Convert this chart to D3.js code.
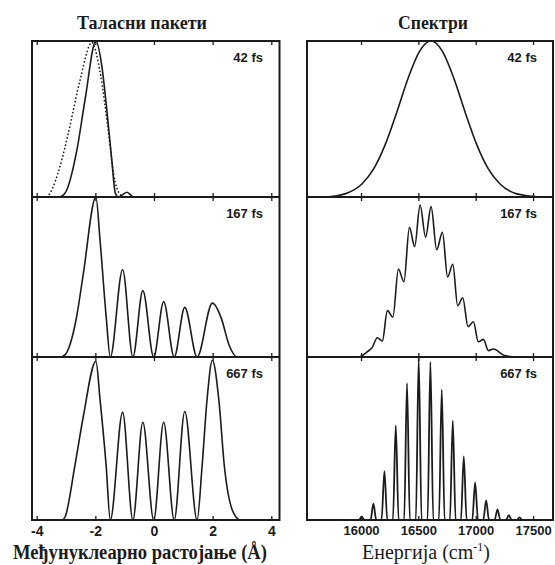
<!DOCTYPE html>
<html><head><meta charset="utf-8">
<script src="https://cdn.jsdelivr.net/npm/d3@7"></script>
<style>body{margin:0;background:#fff} svg{display:block}</style>
</head><body>
<svg id="c" width="555" height="565"></svg>
<script>
// ---------- data ----------
const panelLabels = ["42 fs", "167 fs", "667 fs"];
const distTicks = [-4, -2, 0, 2, 4];
const distTickLabels = ["-4", "-2", "0", "2", "4"];
const energyTicks = [16000, 16500, 17000, 17500];
const energyTickLabels = ["16000", "16500", "17000", "17500"];

// wave packets |psi|^2 (distance in Å, relative amplitude)
const packet42X = [-4.16, -3.25, -3.03, -2.63, -2.35, -1.98, -1.78, -1.61, -1.44, -1.32, -1.22, -0.92, -0.7, 4.28];
const packet42Y = [0, 0, 0.026, 0.30, 0.625, 1.0, 0.84, 0.56, 0.24, 0.026, 0, 0.03, 0, 0];
const initialX = [-3.65, -3.54, -3.20, -2.92, -2.52, -2.12, -1.83, -1.55, -1.38, -1.15, -1.0];
const initialY = [0, 0.026, 0.20, 0.41, 0.75, 0.99, 0.79, 0.41, 0.15, 0.015, 0];
const packet167X = [-4.16, -3.2, -3.03, -2.86, -2.64, -2.41, -1.98, -1.84, -1.63, -1.49, -1.07, -0.72, -0.38, -0.01, 0.33, 0.69, 1.05, 1.47, 1.99, 2.30, 2.55, 2.84, 4.28];
const packet167Y = [0, 0, 0.015, 0.08, 0.25, 0.52, 1.0, 0.73, 0.25, 0, 0.547, 0, 0.415, 0, 0.345, 0, 0.31, 0, 0.337, 0.24, 0.08, 0, 0];
const packet667X = [-4.16, -3.13, -3.03, -2.70, -2.41, -1.98, -1.84, -1.63, -1.49, -1.07, -0.72, -0.38, -0.01, 0.33, 0.69, 1.05, 1.47, 1.64, 1.81, 1.99, 2.21, 2.40, 2.72, 2.95, 4.28];
const packet667Y = [0, 0, 0.02, 0.33, 0.635, 0.973, 0.74, 0.33, 0, 0.66, 0, 0.60, 0, 0.60, 0, 0.666, 0, 0.33, 0.74, 0.98, 0.74, 0.33, 0.04, 0, 0];

// spectra (energy in cm^-1, relative intensity)
const spec42E = [15529, 15700, 15860, 16010, 16110, 16210, 16310, 16410, 16510, 16610, 16710, 16810, 16910, 17010, 17110, 17210, 17360, 17560, 17674];
const spec42I = [0, 0, 0.02, 0.085, 0.18, 0.334, 0.539, 0.76, 0.934, 1, 0.934, 0.76, 0.539, 0.334, 0.18, 0.085, 0.02, 0, 0];
const spec167E = [15529, 15976, 16050, 16098, 16142, 16186, 16230, 16278, 16326, 16374, 16422, 16468, 16515, 16563, 16611, 16660, 16710, 16755, 16800, 16843, 16887, 16933, 16980, 17023, 17067, 17111, 17155, 17250, 17359, 17674];
const spec167I = [0, 0, 0.03, 0.06, 0.12, 0.10, 0.29, 0.25, 0.55, 0.47, 0.81, 0.69, 0.95, 0.75, 0.94, 0.67, 0.78, 0.50, 0.58, 0.32, 0.37, 0.19, 0.22, 0.095, 0.11, 0.04, 0.05, 0.01, 0, 0];
const lines667E = [16006, 16108, 16204, 16303, 16401, 16503, 16605, 16704, 16800, 16896, 16995, 17091, 17190, 17289, 17382];
const lines667I = [0.02, 0.10, 0.30, 0.58, 0.84, 0.99, 0.97, 0.80, 0.61, 0.39, 0.23, 0.12, 0.065, 0.03, 0.016];
const lineHalfWidth = 25;

// ---------- layout ----------
const svg = d3.select("#c");
const ink = "#1b1b1b";
const rows = [[41, 197], [197, 357], [357, 520]];
const xL = d3.scaleLinear().domain([-4.16, 4.28]).range([32, 279.5]);
const xR = d3.scaleLinear().domain([15529, 17674]).range([307, 553]);

const zip = (a, b) => a.map((v, i) => [v, b[i]]);
const spec667 = [[15529, 0]];
lines667E.forEach((c, i) => { spec667.push([c - lineHalfWidth, 0], [c, lines667I[i]], [c + lineHalfWidth, 0]); });
spec667.push([17674, 0]);

const leftSeries = [zip(packet42X, packet42Y), zip(packet167X, packet167Y), zip(packet667X, packet667Y)];
const rightSeries = [zip(spec42E, spec42I), zip(spec167E, spec167I), spec667];

function drawColumn(x, series, ticks, tickLabels, isLeft) {
  const [x0, x1] = x.range();
  rows.forEach(([top, bot], i) => {
    const y = d3.scaleLinear().domain([0, 1]).range([bot, top]);
    const g = svg.append("g");
    g.append("g").attr("transform", `translate(0,${top})`)
      .call(d3.axisTop(x).tickValues(ticks).tickSizeInner(-4).tickSizeOuter(0).tickFormat(""))
      .call(s => s.select(".domain").remove())
      .call(s => s.selectAll("line").attr("stroke", ink).attr("stroke-width", 1.3));
    const bAxis = d3.axisBottom(x).tickValues(ticks).tickSizeInner(-4).tickSizeOuter(0).tickPadding(6)
      .tickFormat(i === 2 ? ((d, k) => tickLabels[k]) : "");
    g.append("g").attr("transform", `translate(0,${bot})`).call(bAxis)
      .call(s => s.select(".domain").remove())
      .call(s => s.selectAll("line").attr("stroke", ink).attr("stroke-width", 1.3))
      .call(s => s.selectAll("text").attr("fill", ink)
        .style("font-family", "'Liberation Sans', Arial, sans-serif")
        .style("font-weight", "bold").style("font-size", isLeft ? "14px" : "13px"));
    const line = d3.line().x(d => x(d[0])).y(d => y(d[1])).curve(d3.curveMonotoneX);
    g.append("path").datum(series[i]).attr("d", line).attr("fill", "none")
      .attr("stroke", ink).attr("stroke-width", (!isLeft && i === 2) ? 1.8 : 1.6).attr("stroke-linejoin", "round");
    if (isLeft && i === 0) {
      g.append("path").datum(zip(initialX, initialY)).attr("d", line).attr("fill", "none")
        .attr("stroke", ink).attr("stroke-width", 1.7).attr("stroke-dasharray", "0.1,3.6")
        .attr("stroke-linecap", "round");
    }
    g.append("text").attr("x", isLeft ? 263 : 537).attr("y", top + 21).attr("text-anchor", "end")
      .style("font-family", "'Liberation Sans', Arial, sans-serif").style("font-weight", "bold")
      .style("font-size", "13px").attr("fill", ink).text(panelLabels[i]);
  });
  svg.append("rect").attr("x", x0).attr("y", rows[0][0]).attr("width", x1 - x0).attr("height", rows[2][1] - rows[0][0])
    .attr("fill", "none").attr("stroke", ink).attr("stroke-width", 2);
  [rows[1][0], rows[2][0]].forEach(yy => svg.append("line").attr("x1", x0).attr("x2", x1).attr("y1", yy).attr("y2", yy)
    .attr("stroke", ink).attr("stroke-width", 2));
}

drawColumn(xL, leftSeries, distTicks, distTickLabels, true);
drawColumn(xR, rightSeries, energyTicks, energyTickLabels, false);

// titles
const serif = "'Liberation Serif', 'Times New Roman', serif";
svg.append("text").attr("x", 77).attr("y", 29).attr("font-family", serif).attr("font-weight", "bold")
  .attr("font-size", 19).attr("textLength", 130).attr("lengthAdjust", "spacingAndGlyphs").attr("fill", ink).text("Таласни пакети");
svg.append("text").attr("x", 398).attr("y", 29).attr("font-family", serif).attr("font-weight", "bold")
  .attr("font-size", 19).attr("textLength", 70).attr("lengthAdjust", "spacingAndGlyphs").attr("fill", ink).text("Спектри");
svg.append("text").attr("x", 13).attr("y", 559).attr("font-family", serif).attr("font-weight", "bold")
  .attr("font-size", 20).attr("textLength", 254).attr("lengthAdjust", "spacingAndGlyphs").attr("fill", ink)
  .text("Међунуклеарно растојање (Å)");
const et = svg.append("text").attr("x", 362).attr("y", 559).attr("font-family", serif)
  .attr("font-size", 20).attr("fill", ink);
et.append("tspan").text("Енергија (cm");
et.append("tspan").attr("font-size", 12).attr("dy", -8).text("-1");
et.append("tspan").attr("dy", 8).text(")");
</script>
</body></html>
